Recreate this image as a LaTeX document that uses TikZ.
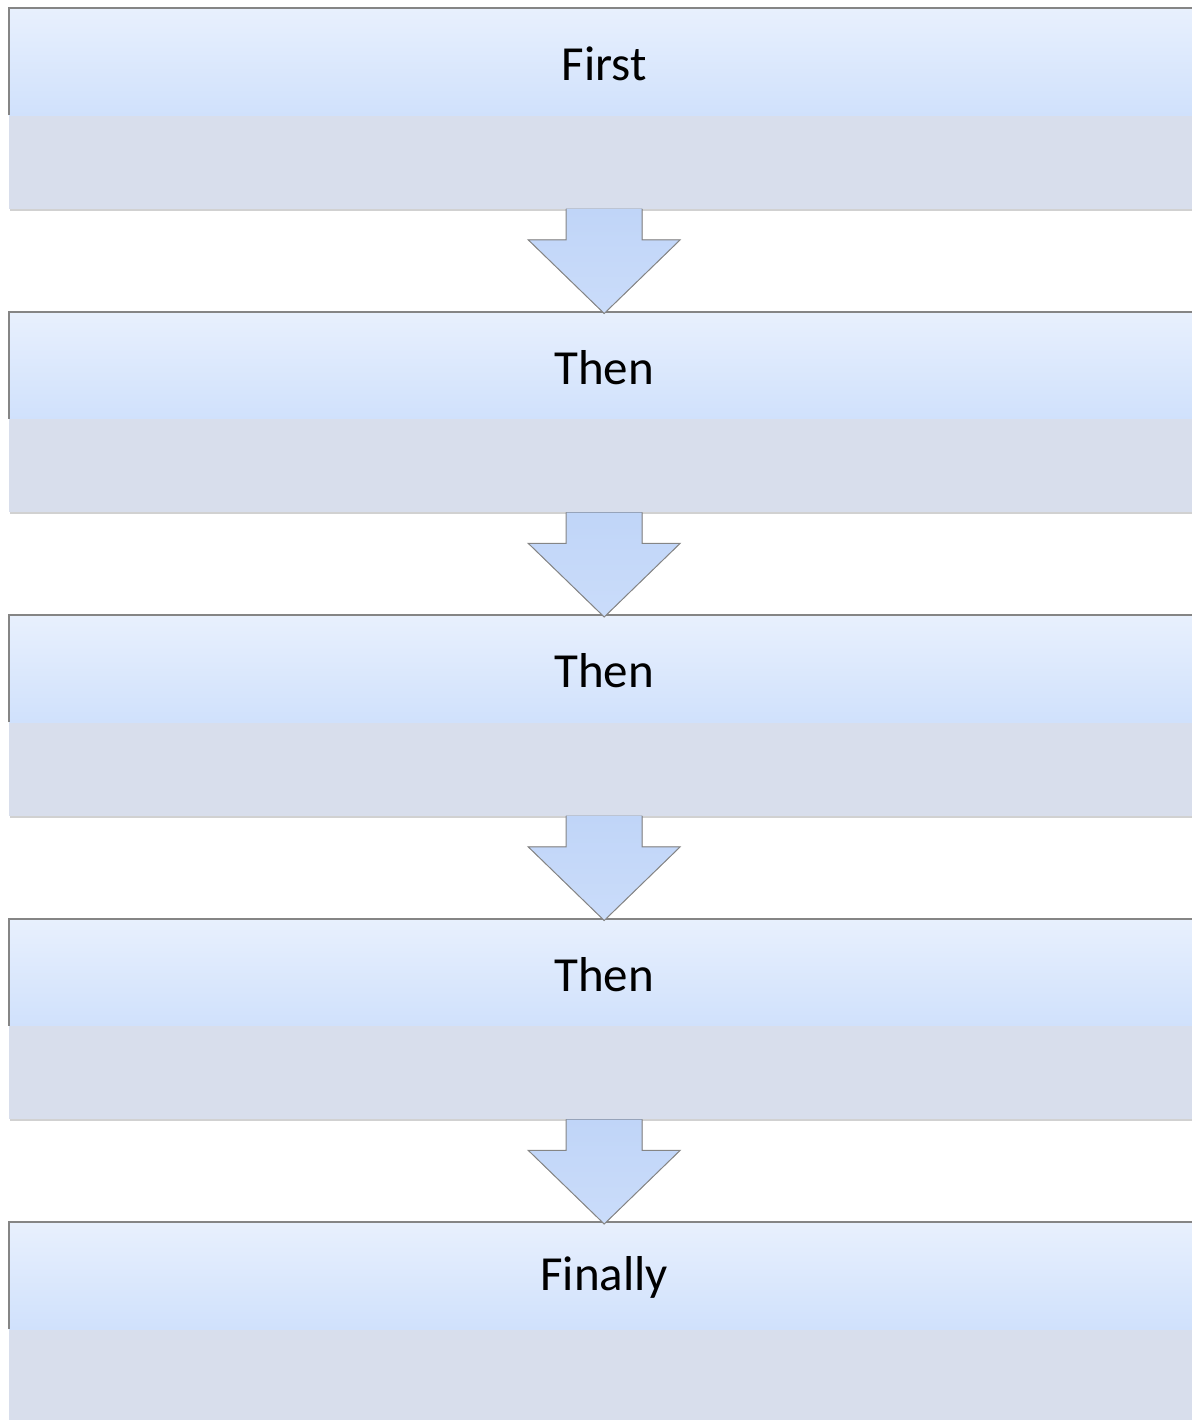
\documentclass[tikz,border=0pt]{standalone}
\usepackage{fontspec}
\setmainfont{Carlito}
\usetikzlibrary{calc}

\definecolor{lighttop}{HTML}{E8F0FD}
\definecolor{lightbot}{HTML}{D0E1FC}
\definecolor{panelgray}{HTML}{D8DEEC}
\definecolor{edgegray}{HTML}{858585}
\definecolor{arrowtop}{HTML}{C0D5F8}
\definecolor{arrowbot}{HTML}{CADCFA}

\tikzset{
	upband/.style={rectangle, inner sep=0pt, minimum width=1190pt, minimum height=107pt, top color=lighttop, bottom color=lightbot, draw=none},
	lowband/.style={rectangle, inner sep=0pt, minimum width=1190pt, minimum height=93pt, fill=panelgray, draw=none},
	steplabel/.style={font=\fontsize{49}{55}\selectfont, text=black},
	downarrow/.style={draw=edgegray, line width=1pt, top color=arrowtop, bottom color=arrowbot, line join=miter}
}

\begin{document}
\begin{tikzpicture}[x=1pt,y=-1pt]
		\def\gap{303.5}
		\def\shaft{38}
		\def\head{76}
		\useasboundingbox (0,0) rectangle (1191,1420);
		\foreach \i/\txt in {1/First,2/Then,3/Then,4/Then,5/Finally}
		{
			\pgfmathsetmacro{\ytop}{8+(\i-1)*\gap}
			\node[upband, anchor=north west] (up\i) at (9,\ytop) {};
			\node[lowband, anchor=north] (low\i) at (up\i.south) {};
			% shadow under the grey band
			\draw[black!18, line width=2pt] ($(low\i.south west)+(1,1)$) -- ($(low\i.south east)+(0,1)$);
			% edge on top and left of the blue band
			\draw[edgegray, line width=2pt] (up\i.south west) -- (up\i.north west) -- (up\i.north east);
			\node[steplabel] (t\i) at ($(up\i.center)+(0,2)$) {\txt};
		}
		\foreach \i [evaluate=\i as \j using int(\i+1)] in {1,...,4}
		{
			\filldraw[downarrow]
			($(low\i.south)+(-\shaft,0)$) -- ($(low\i.south)+(-\shaft,31)$)
			-- ($(low\i.south)+(-\head,31)$) -- ($(up\j.north)+(0,2)$)
			-- ($(low\i.south)+(\head,31)$) -- ($(low\i.south)+(\shaft,31)$)
			-- ($(low\i.south)+(\shaft,0)$);
		}
	\end{tikzpicture}
\end{document}
